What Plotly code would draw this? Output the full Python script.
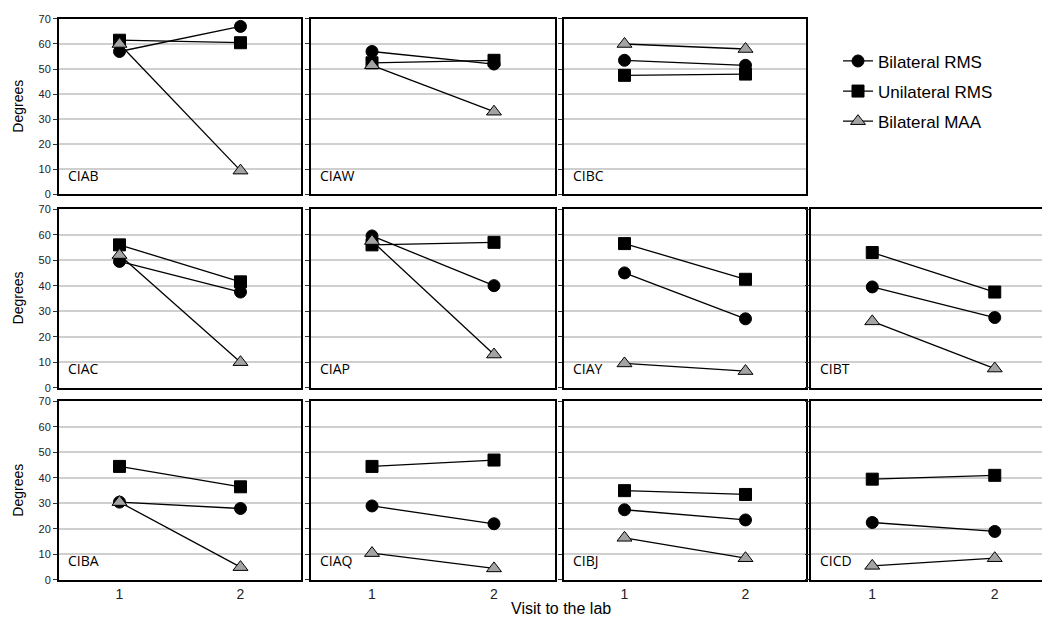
import plotly.graph_objects as go

# ---------------- data ----------------
panels = ["CIAB", "CIAW", "CIBC",
          "CIAC", "CIAP", "CIAY", "CIBT",
          "CIBA", "CIAQ", "CIBJ", "CICD"]
visits = [1, 2]
bilateral_rms = [[57, 67], [57, 52], [53.5, 51.5],
                 [49.5, 37.5], [59.5, 40], [45, 27], [39.5, 27.5],
                 [30.5, 28], [29, 22], [27.5, 23.5], [22.5, 19]]
unilateral_rms = [[61.5, 60.5], [52.5, 53.5], [47.5, 48],
                  [56, 41.5], [56, 57], [56.5, 42.5], [53, 37.5],
                  [44.5, 36.5], [44.5, 47], [35, 33.5], [39.5, 41]]
bilateral_maa = [[60, 9.5], [51.5, 33], [60, 58],
                 [52, 10], [57.5, 13], [9.5, 6.5], [26, 7.5],
                 [30.5, 5], [10.5, 4.5], [16.5, 8.5], [5.5, 8.5]]
y_ticks = [0, 10, 20, 30, 40, 50, 60, 70]
x_ticks = [1, 2]

# ---------------- layout geometry (pixels) ----------------
W, H = 1050, 623
col_px = [(51, 293), (303, 547), (556, 798), (803, 1048)]
row_px = [(5, 184), (199, 381), (395, 577)]
slots = [(0, 0), (0, 1), (0, 2),
         (1, 0), (1, 1), (1, 2), (1, 3),
         (2, 0), (2, 1), (2, 2), (2, 3)]

series = [
    ("Bilateral RMS", bilateral_rms, "circle", "black", 12),
    ("Unilateral RMS", unilateral_rms, "square", "black", 12),
    ("Bilateral MAA", bilateral_maa, "triangle-up", "#A3A3A3", 13),
]

fig = go.Figure()
layout = {}
annotations = []

for i, name in enumerate(panels):
    r, c = slots[i]
    n = "" if i == 0 else str(i + 1)
    x0, x1 = col_px[c]
    yt, yb = row_px[r]
    layout["xaxis" + n] = dict(
        domain=[x0 / W, x1 / W], anchor="y" + n, range=[0.5, 2.5],
        showline=True, mirror=True, linecolor="black", linewidth=2,
        showgrid=False, zeroline=False, ticks="",
        tickvals=x_ticks, showticklabels=(r == 2),
        tickfont=dict(family="Liberation Sans, Arial", size=14, color="#222"),
        fixedrange=True,
    )
    layout["yaxis" + n] = dict(
        domain=[1 - yb / H, 1 - yt / H], anchor="x" + n, range=[0, 70],
        showline=True, mirror=True, linecolor="black", linewidth=2,
        showgrid=True, gridcolor="#CFCFCF", gridwidth=1.5, zeroline=False,
        tickvals=y_ticks, ticks="outside", ticklen=4, tickcolor="#333",
        showticklabels=(c == 0),
        tickfont=dict(family="Liberation Sans, Arial", size=11, color="#222"),
        fixedrange=True,
    )
    for k, (sname, vals, sym, col, sz) in enumerate(series):
        fig.add_trace(go.Scatter(
            x=visits, y=vals[i], mode="lines+markers", name=sname,
            xaxis="x" + n, yaxis="y" + n,
            line=dict(color="black", width=1.3),
            marker=dict(symbol=sym, color=col, size=sz,
                        line=dict(color="black", width=1)),
            showlegend=(i == 0), legendgroup=sname, cliponaxis=False,
        ))
    annotations.append(dict(
        text=name, xref="x" + n + " domain", yref="y" + n + " domain",
        x=0.03, y=0.045, xanchor="left", yanchor="bottom", showarrow=False,
        font=dict(family="Open Sans, Noto Sans", size=14, color="black"),
    ))

for r in range(3):
    yt, yb = row_px[r]
    annotations.append(dict(
        text="Degrees", xref="paper", yref="paper",
        x=10 / W, y=1 - ((yt + yb) / 2) / H, textangle=-90,
        xanchor="center", yanchor="middle", showarrow=False,
        font=dict(family="Liberation Sans, Arial", size=14, color="black"),
    ))

annotations.append(dict(
    text="Visit to the lab", xref="paper", yref="paper",
    x=553 / W, y=1 - 606 / H, xanchor="center", yanchor="middle",
    showarrow=False,
    font=dict(family="Liberation Sans, Arial", size=16, color="black"),
))

fig.update_layout(
    width=W, height=H,
    margin=dict(l=0, r=0, t=0, b=0),
    paper_bgcolor="white", plot_bgcolor="white",
    annotations=annotations,
    legend=dict(x=830 / W, y=1 - 30 / H, xanchor="left", yanchor="top",
                font=dict(family="Liberation Sans, Arial", size=17, color="black"),
                tracegroupgap=5, bgcolor="rgba(0,0,0,0)"),
    **layout,
)

fig.write_html("out.html")
